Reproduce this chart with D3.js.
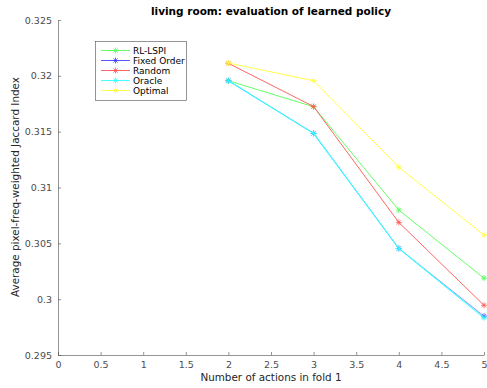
<!DOCTYPE html>
<html><head><meta charset="utf-8">
<script src="https://cdn.jsdelivr.net/npm/d3@7"></script>
<style>body{margin:0;background:#fff}svg{display:block}text{font-family:"DejaVu Sans",sans-serif}</style>
</head><body>
<script>
const xValues = [2, 3, 4, 5];
const seriesNames = ["RL-LSPI", "Fixed Order", "Random", "Oracle", "Optimal"];
const seriesColors = ["#55ff55", "#4444ff", "#ff5555", "#33ffff", "#ffff33"];
const rlLspi = [0.31956, 0.31723, 0.30798, 0.30188];
const fixedOrder = [0.31956, 0.31485, 0.30454, 0.29848];
const randomPolicy = [0.32112, 0.31725, 0.30687, 0.29945];
const oracle = [0.31956, 0.31485, 0.30454, 0.29833];
const optimal = [0.32115, 0.31956, 0.31182, 0.30574];
const seriesValues = [rlLspi, fixedOrder, randomPolicy, oracle, optimal];
const seriesWidths = [0.9, 0.6, 0.9, 1.1, 0.9];
const xTicks = [0, 0.5, 1, 1.5, 2, 2.5, 3, 3.5, 4, 4.5, 5];
const yTicks = [0.295, 0.3, 0.305, 0.31, 0.315, 0.32, 0.325];

const W = 487, H = 388;
const L = 58, R = 484, T = 20, B = 355;
const svg = d3.select("body").append("svg").attr("width", W).attr("height", H);
const x = d3.scaleLinear().domain([0, 5]).range([L, R]);
const y = d3.scaleLinear().domain([0.295, 0.325]).range([B, T]);
const axisColor = "#4d4d4d";

const xa = svg.append("g").attr("transform", `translate(0,${B})`)
  .call(d3.axisBottom(x).tickValues(xTicks).tickSizeInner(-3).tickSizeOuter(0).tickPadding(6).tickFormat(d3.format("")));
const ya = svg.append("g").attr("transform", `translate(${L},0)`)
  .call(d3.axisLeft(y).tickValues(yTicks).tickSizeInner(-3).tickSizeOuter(0).tickPadding(6).tickFormat(d => String(+d.toFixed(3))));
[xa, ya].forEach(a => {
  a.selectAll("path,line").attr("stroke", axisColor).attr("stroke-width", 0.6);
  a.selectAll("text").attr("fill", axisColor).attr("font-size", 9.5).attr("font-family", "DejaVu Sans");
});

const line = d3.line().x((d, i) => x(xValues[i])).y(d => y(d));
function star(g, cx, cy, color) {
  const r = 3;
  const p = `M${cx - r},${cy}L${cx + r},${cy}M${cx},${cy - r}L${cx},${cy + r}` +
    `M${cx - r * 0.7},${cy - r * 0.7}L${cx + r * 0.7},${cy + r * 0.7}M${cx - r * 0.7},${cy + r * 0.7}L${cx + r * 0.7},${cy - r * 0.7}`;
  g.append("path").attr("d", p).attr("stroke", color).attr("stroke-width", 0.8).attr("fill", "none");
}
seriesValues.forEach((vals, k) => {
  const g = svg.append("g");
  g.append("path").datum(vals).attr("d", line).attr("fill", "none")
    .attr("stroke", seriesColors[k]).attr("stroke-width", seriesWidths[k]);
  vals.forEach((v, i) => star(g, x(xValues[i]), y(v), seriesColors[k]));
});

// legend
const lg = svg.append("g");
lg.append("rect").attr("x", 95.5).attr("y", 41.5).attr("width", 91).attr("height", 59)
  .attr("fill", "#fff").attr("stroke", axisColor).attr("stroke-width", 0.6);
seriesNames.forEach((n, k) => {
  const yy = 50.5 + k * 10;
  lg.append("line").attr("x1", 101).attr("x2", 130).attr("y1", yy).attr("y2", yy)
    .attr("stroke", seriesColors[k]).attr("stroke-width", 0.9);
  star(lg, 115.5, yy, seriesColors[k]);
  lg.append("text").attr("x", 133).attr("y", yy + 3.3).attr("font-size", 9).attr("fill", "#000").text(n);
});

svg.append("text").attr("x", 271).attr("y", 15).attr("text-anchor", "middle")
  .attr("font-size", 10.5).attr("font-weight", "bold").text("living room: evaluation of learned policy");
svg.append("text").attr("x", 271).attr("y", 381).attr("text-anchor", "middle")
  .attr("font-size", 10.4).attr("fill", "#262626").text("Number of actions in fold 1");
svg.append("text").attr("transform", "translate(19,187) rotate(-90)").attr("text-anchor", "middle")
  .attr("font-size", 10.4).attr("fill", "#262626").text("Average pixel-freq-weighted Jaccard Index");
</script>
</body></html>
